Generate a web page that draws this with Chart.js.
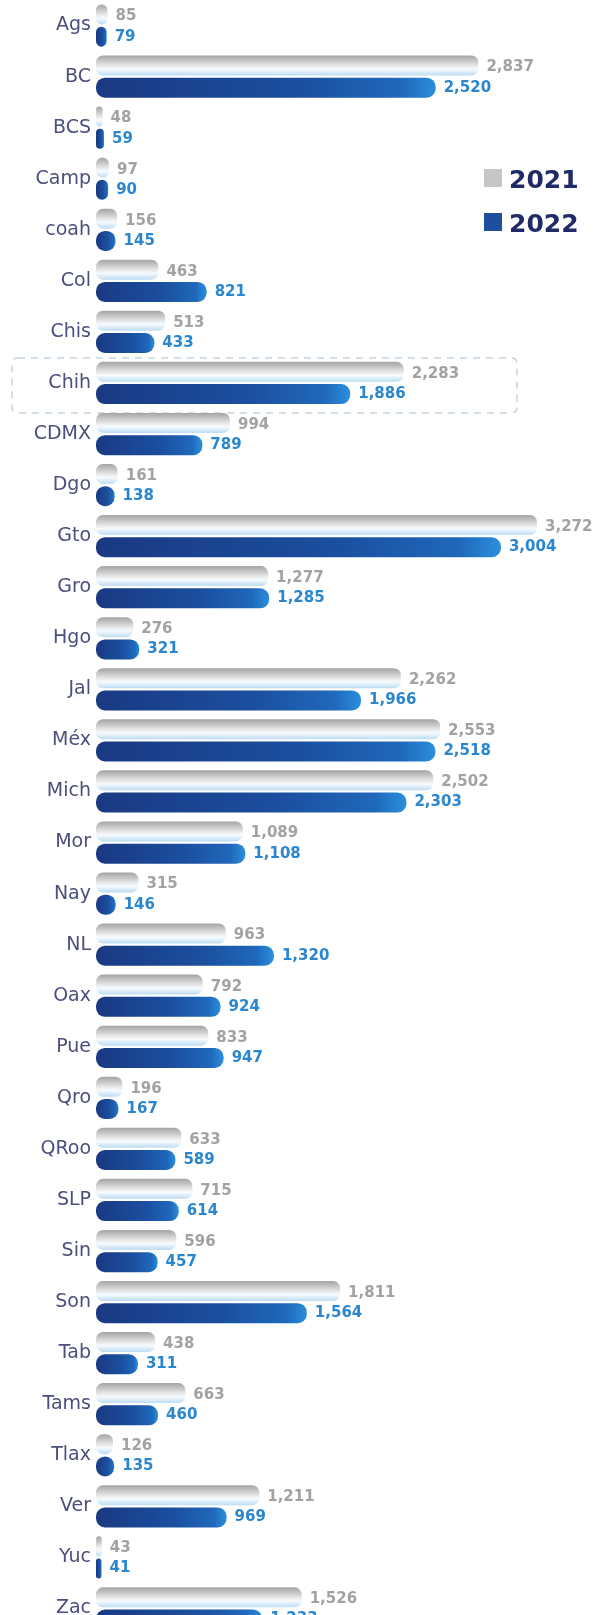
<!DOCTYPE html>
<html>
<head>
<meta charset="utf-8">
<script src="https://cdn.jsdelivr.net/npm/chart.js@4.4.1/dist/chart.umd.min.js"></script>
<style>
  html, body { margin: 0; padding: 0; background: #ffffff; overflow: hidden; width: 609px; height: 1615px; }
  #wrap { position: absolute; left: 0; top: 0; width: 609px; height: 1634px; }
  .leg { position: absolute; font-family: "DejaVu Sans", sans-serif; font-weight: bold; font-size: 25px; color: #1f2a66; line-height: 1; }
  .sw { position: absolute; width: 18px; height: 18px; }
</style>
</head>
<body>
<div id="wrap"><canvas id="c" width="609" height="1634"></canvas></div>
<div class="sw" style="left:484px; top:169px; background:#c6c6c6;"></div>
<div class="leg" style="left:509px; top:167px;">2021</div>
<div class="sw" style="left:484px; top:213px; background:#1d4f9e;"></div>
<div class="leg" style="left:509px; top:211px;">2022</div>
<script>
const categories = ["Ags","BC","BCS","Camp","coah","Col","Chis","Chih","CDMX","Dgo","Gto","Gro","Hgo","Jal","Méx","Mich","Mor","Nay","NL","Oax","Pue","Qro","QRoo","SLP","Sin","Son","Tab","Tams","Tlax","Ver","Yuc","Zac"];
const seriesNames = ["2021", "2022"];
const values2021 = [85, 2837, 48, 97, 156, 463, 513, 2283, 994, 161, 3272, 1277, 276, 2262, 2553, 2502, 1089, 315, 963, 792, 833, 196, 633, 715, 596, 1811, 438, 663, 126, 1211, 43, 1526];
const values2022 = [79, 2520, 59, 90, 145, 821, 433, 1886, 789, 138, 3004, 1285, 321, 1966, 2518, 2303, 1108, 146, 1320, 924, 947, 167, 589, 614, 457, 1564, 311, 460, 135, 969, 41, 1233];
const highlighted = "Chih";

const CAT_PCT = 0.87;
const BAR_PCT = 0.9;

function ok() { for (const a of arguments) if (!Number.isFinite(a)) return false; return true; }

function barBounds(chart, dsIndex, i) {
  const ys = chart.scales.y;
  const c = ys.getPixelForValue(i);
  const band = ys.height / categories.length;
  const slot = band * CAT_PCT / 2;
  const bc = c + (dsIndex === 0 ? -slot / 2 : slot / 2);
  const h = slot * BAR_PCT / 2;
  return { top: bc - h, bottom: bc + h };
}

function fill2021(ctx) {
  const chart = ctx.chart;
  if (ctx.dataIndex === undefined || !chart.scales || !chart.scales.y) return '#d3d3d3';
  const b = barBounds(chart, 0, ctx.dataIndex);
  if (!ok(b.top, b.bottom) || b.bottom <= b.top) return '#d3d3d3';
  const g = chart.ctx.createLinearGradient(0, b.top, 0, b.bottom);
  g.addColorStop(0, '#a4a4a4');
  g.addColorStop(0.3, '#cbcbcb');
  g.addColorStop(0.5, '#e6e6e6');
  g.addColorStop(0.68, '#f7fbfe');
  g.addColorStop(1, '#bcdcf3');
  return g;
}

function fill2022(ctx) {
  const chart = ctx.chart;
  if (ctx.dataIndex === undefined || !chart.scales || !chart.scales.x) return '#1d4f9e';
  const xs = chart.scales.x;
  const x0 = xs.getPixelForValue(0);
  const x1 = xs.getPixelForValue(values2022[ctx.dataIndex]);
  if (!ok(x0, x1)) return '#1d4f9e';
  const g = chart.ctx.createLinearGradient(x0, 0, Math.max(x1, x0 + 1), 0);
  g.addColorStop(0, '#1a3982');
  g.addColorStop(0.6, '#1b4f9f');
  g.addColorStop(0.9, '#1f68bb');
  g.addColorStop(1, '#2b8fdc');
  return g;
}

const valueLabels = {
  id: 'valueLabels',
  afterDatasetsDraw(chart) {
    const c = chart.ctx;
    c.save();
    c.font = 'bold 15px "DejaVu Sans", sans-serif';
    c.textAlign = 'left';
    c.textBaseline = 'middle';
    chart.data.datasets.forEach((ds, di) => {
      const meta = chart.getDatasetMeta(di);
      c.fillStyle = di === 0 ? '#a2a2a2' : '#2b86d0';
      meta.data.forEach((el, i) => {
        const v = ds.data[i];
        c.fillText(v.toLocaleString('en-US'), el.x + 8, el.y + (di === 0 ? 2 : 0));
      });
    });
    c.restore();
  }
};

const highlightBox = {
  id: 'highlightBox',
  beforeDatasetsDraw(chart) {
    const idx = categories.indexOf(highlighted);
    if (idx < 0) return;
    const ys = chart.scales.y;
    const c = ys.getPixelForValue(idx);
    const left = 12, right = chart.chartArea.left + 421;
    const top = c - 25, bottom = c + 30, r = 6;
    const ctx = chart.ctx;
    ctx.save();
    ctx.strokeStyle = '#c3d3e4';
    ctx.lineWidth = 1.5;
    ctx.setLineDash([7, 6]);
    ctx.beginPath();
    ctx.moveTo(left + r, top);
    ctx.lineTo(right - r, top);
    ctx.quadraticCurveTo(right, top, right, top + r);
    ctx.lineTo(right, bottom - r);
    ctx.quadraticCurveTo(right, bottom, right - r, bottom);
    ctx.lineTo(left + r, bottom);
    ctx.quadraticCurveTo(left, bottom, left, bottom - r);
    ctx.lineTo(left, top + r);
    ctx.quadraticCurveTo(left, top, left + r, top);
    ctx.stroke();
    ctx.restore();
  }
};

new Chart(document.getElementById('c'), {
  type: 'bar',
  data: {
    labels: categories,
    datasets: [
      {
        label: seriesNames[0],
        data: values2021,
        backgroundColor: fill2021,
        borderRadius: 7,
        borderSkipped: false,
        categoryPercentage: CAT_PCT,
        barPercentage: BAR_PCT
      },
      {
        label: seriesNames[1],
        data: values2022,
        backgroundColor: fill2022,
        borderRadius: 9,
        borderSkipped: false,
        categoryPercentage: CAT_PCT,
        barPercentage: BAR_PCT
      }
    ]
  },
  options: {
    indexAxis: 'y',
    responsive: false,
    animation: false,
    devicePixelRatio: 1,
    layout: { padding: 0 },
    plugins: {
      legend: { display: false },
      tooltip: { enabled: false }
    },
    scales: {
      x: {
        display: false,
        min: 0,
        max: 3806
      },
      y: {
        afterFit(scale) { scale.width = 96; scale.paddingTop = 0; scale.paddingBottom = 0; },
        grid: { display: false, drawTicks: false },
        border: { display: false },
        ticks: {
          padding: 5,
          color: '#4b4f7d',
          font: { family: '"DejaVu Sans", sans-serif', size: 19 }
        }
      }
    }
  },
  plugins: [highlightBox, valueLabels]
});
</script>
</body>
</html>
